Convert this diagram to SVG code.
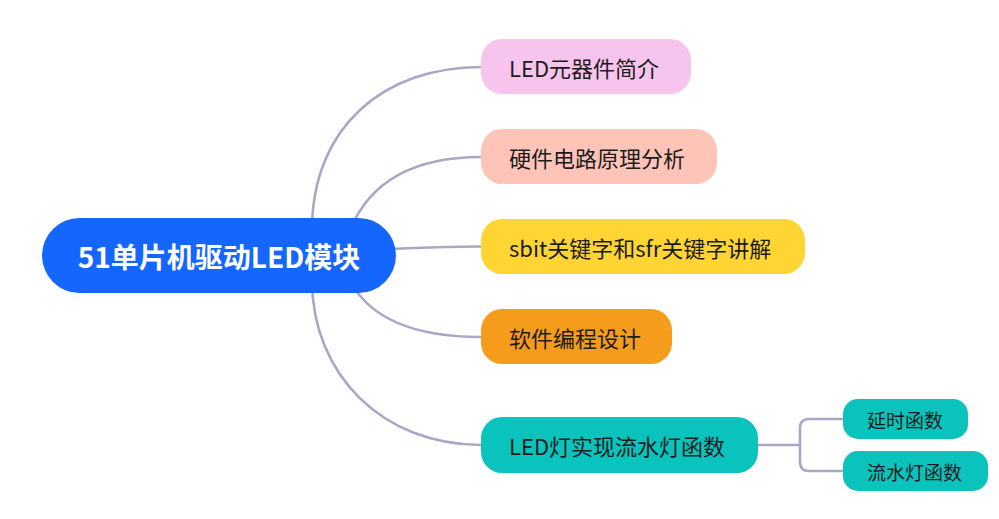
<svg xmlns="http://www.w3.org/2000/svg" width="999" height="519" viewBox="0 0 999 519">
<style>
.ln{fill:none;stroke:#a9a7c5;stroke-width:2.6;stroke-linecap:round}
.t{font-family:"Noto Sans CJK SC","Noto Sans",sans-serif;fill:#1c1c1c;dominant-baseline:central}
.b{font-size:22px}
.s{font-size:19px}
.r{font-size:28px;font-weight:bold;fill:#ffffff}
</style>
<rect width="999" height="519" fill="#ffffff"/>
<g id="connectors">
<path class="ln" d="M312,230 C312,126 385,67 481,67"/>
<path class="ln" d="M350,230 Q380,157 481,157"/>
<path class="ln" d="M390,249 C430,247 450,246.5 481,246.5"/>
<path class="ln" d="M350,281 Q380,337 481,337"/>
<path class="ln" d="M312,280 C312,375 383,445 481,445"/>
<path class="ln" d="M750,445 H800"/>
<path class="ln" d="M843,419 H809 Q800,419 800,428 V462 Q800,471 809,471 H843"/>
</g>
<g id="root">
<rect x="42" y="218" width="354" height="75" rx="37.5" fill="#1565ff"/>
<text class="t r" x="219" y="256" text-anchor="middle">51单片机驱动LED模块</text>
</g>
<g id="n1">
<rect x="481" y="39" width="210" height="55" rx="21" fill="#f6c4ed"/>
<text class="t b" x="509" y="67">LED元器件简介</text>
</g>
<g id="n2">
<rect x="481" y="129" width="236" height="55" rx="21" fill="#ffc4b8"/>
<text class="t b" x="509" y="157">硬件电路原理分析</text>
</g>
<g id="n3">
<rect x="481" y="219" width="324" height="55" rx="21" fill="#ffd534"/>
<text class="t b" x="509" y="247">sbit关键字和sfr关键字讲解</text>
</g>
<g id="n4">
<rect x="481" y="309" width="191" height="55" rx="21" fill="#f69c1c"/>
<text class="t b" x="509" y="337">软件编程设计</text>
</g>
<g id="n5">
<rect x="481" y="417" width="277" height="56" rx="21" fill="#0ac3bd"/>
<text class="t b" x="509" y="445">LED灯实现流水灯函数</text>
</g>
<g id="n6">
<rect x="843" y="399" width="125" height="40" rx="15" fill="#0ac3bd"/>
<text class="t s" x="867" y="419">延时函数</text>
</g>
<g id="n7">
<rect x="843" y="451" width="145" height="40" rx="15" fill="#0ac3bd"/>
<text class="t s" x="867" y="471">流水灯函数</text>
</g>
</svg>
